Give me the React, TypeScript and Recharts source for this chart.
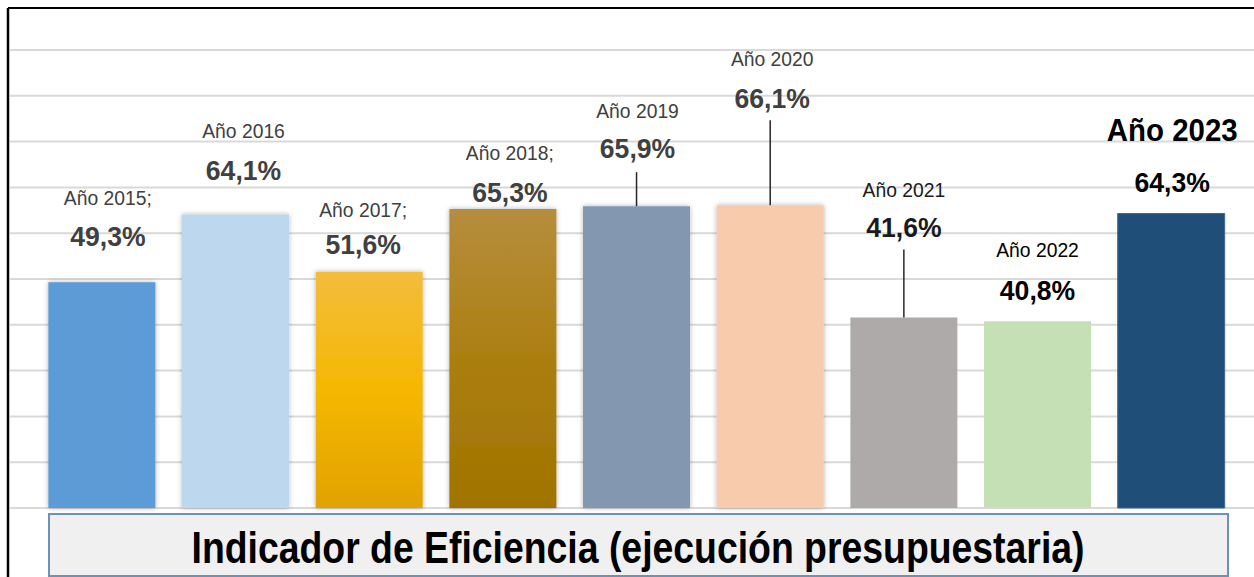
import { BarChart, Bar, XAxis, YAxis, CartesianGrid, Cell, LabelList } from 'recharts';

const years = ['2015', '2016', '2017', '2018', '2019', '2020', '2021', '2022', '2023'];
const yearLabels = ['Año 2015;', 'Año 2016', 'Año 2017;', 'Año 2018;', 'Año 2019', 'Año 2020', 'Año 2021', 'Año 2022', 'Año 2023'];
const efficiency = [49.3, 64.1, 51.6, 65.3, 65.9, 66.1, 41.6, 40.8, 64.3];
const yTicks = [0, 10, 20, 30, 40, 50, 60, 70, 80, 90, 100];

const data = years.map((y, i) => ({ year: y, label: yearLabels[i], value: efficiency[i] }));

const fills = ['#5b9bd5', '#bdd7ee', 'url(#gold)', 'url(#bronze)', '#8497b0', '#f8cbad', '#aeaaaa', '#c5e0b4', '#1f4e79'];

// label placement relative to bar top (hand-moved labels in the original)
const labelPos = [
  { dx: 6, name: -84, val: -46, line: null, color: '#404040' },
  { dx: 8, name: -84, val: -44, line: null, color: '#404040' },
  { dx: -6, name: -62, val: -27, line: null, color: '#404040' },
  { dx: 7, name: -56, val: -17, line: null, color: '#404040' },
  { dx: 1, name: -95, val: -58, line: -34, color: '#404040' },
  { dx: 2, name: -147, val: -107, line: -85, color: '#404040' },
  { dx: 0, name: -128, val: -90, line: -68, color: '#1a1a1a' },
  { dx: 0, name: -71, val: -31, line: null, color: '#000000' },
  { dx: 1, name: -83, val: -31, line: null, color: '#000000' },
];

const font = "'Liberation Sans', Arial, sans-serif";

const fmt = (v: number) => v.toFixed(1).replace('.', ',') + '%';

function BarLabel(props: any) {
  const { x, y, width, index, value } = props;
  const p = labelPos[index];
  const cx = x + width / 2 + p.dx;
  const last = index === years.length - 1;
  return (
    <g>
      {p.line !== null && (
        <line x1={x + width / 2} x2={x + width / 2} y1={y + p.line} y2={y} stroke="#262626" strokeWidth={1.5} />
      )}
      <g transform={`translate(${cx},${y + p.name}) scale(0.92,1)`}>
        <text x={0} y={0} textAnchor="middle" dominantBaseline="central"
          fontFamily={font} fontSize={last ? 32 : 21} fontWeight={last ? 700 : 400} fill={p.color}>
          {yearLabels[index]}
        </text>
      </g>
      <g transform={`translate(${cx},${y + p.val}) scale(0.95,1)`}>
        <text x={0} y={0} textAnchor="middle" dominantBaseline="central"
          fontFamily={font} fontSize={28} fontWeight={700} fill={p.color}>
          {fmt(value)}
        </text>
      </g>
    </g>
  );
}

export default function App() {
  return (
    <div style={{ position: 'absolute', left: 0, top: 0, width: 1254, height: 577, background: '#fff' }}>
      <BarChart width={1254} height={577} data={data} margin={{ top: 50, right: 0, bottom: 69, left: 10 }} barCategoryGap="10%">
        <defs>
          <linearGradient id="gold" x1="0" y1="0" x2="0" y2="1">
            <stop offset="0%" stopColor="#f3bc3e" />
            <stop offset="50%" stopColor="#f5b800" />
            <stop offset="100%" stopColor="#e2a200" />
          </linearGradient>
          <linearGradient id="bronze" x1="0" y1="0" x2="0" y2="1">
            <stop offset="0%" stopColor="#b68d3e" />
            <stop offset="50%" stopColor="#ab7f10" />
            <stop offset="100%" stopColor="#a07300" />
          </linearGradient>
          <filter id="shadow" x="-10%" y="-5%" width="120%" height="110%">
            <feDropShadow dx="0" dy="0" stdDeviation="2.5" floodColor="#000" floodOpacity="0.3" />
          </filter>
        </defs>
        <CartesianGrid vertical={false} stroke="#d9d9d9" strokeWidth={2} />
        <XAxis dataKey="year" hide padding={{ left: 25, right: 16 }} />
        <YAxis hide domain={[0, 100]} ticks={yTicks} />
        <Bar dataKey="value" isAnimationActive={false}>
          {data.map((d, i) => (
            <Cell key={d.year} fill={fills[i]} stroke={i === 8 ? '#3d6a96' : 'none'} filter={i < 6 ? 'url(#shadow)' : undefined} />
          ))}
          <LabelList dataKey="value" content={BarLabel} />
        </Bar>
      </BarChart>
      <svg width={1254} height={577} style={{ position: 'absolute', left: 0, top: 0, pointerEvents: 'none' }}>
        <line x1={8} x2={1254} y1={8} y2={8} stroke="#000" strokeWidth={2} />
        <line x1={8} x2={8} y1={8} y2={577} stroke="#000" strokeWidth={2.5} />
        <rect x={49} y={514} width={1179} height={62} fill="#f0f0f0" stroke="#6d91b9" strokeWidth={2} />
        <text x={638} y={547} textAnchor="middle" dominantBaseline="central" fontFamily={font}
          fontSize={44} fontWeight={700} fill="#000" textLength={893} lengthAdjust="spacingAndGlyphs">
          Indicador de Eficiencia (ejecución presupuestaria)
        </text>
      </svg>
    </div>
  );
}
